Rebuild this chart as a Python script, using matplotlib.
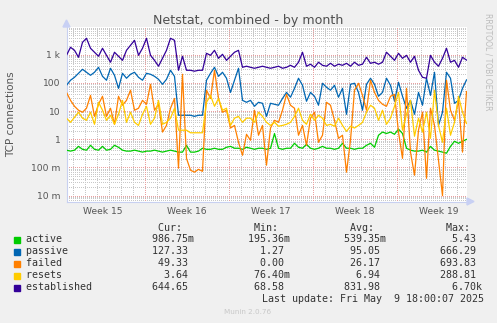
import numpy as np
import matplotlib
matplotlib.use("Agg")
import matplotlib.pyplot as plt
from matplotlib.patches import Polygon, Rectangle
from matplotlib.ticker import FixedLocator, FixedFormatter, NullLocator

# netstat counters, one sample every 8 hours across the month window
active = [
    0.41, 0.38, 0.41, 0.56, 0.44, 0.41, 0.61, 0.44, 0.41, 0.56,
    0.41, 0.44, 0.61, 0.52, 0.41, 0.38, 0.38, 0.41, 0.38, 0.35,
    0.38, 0.38, 0.41, 0.38, 0.35, 0.38, 0.41, 0.38, 0.35, 0.35,
    0.61, 0.35, 0.35, 0.38, 0.48, 0.44, 0.44, 0.48, 0.44, 0.44,
    0.52, 0.56, 0.48, 0.48, 0.44, 0.52, 0.48, 0.44, 0.48, 0.48,
    0.44, 0.48, 1.6, 0.48, 0.44, 0.48, 0.48, 0.72, 0.52, 0.48,
    0.66, 0.48, 0.44, 0.48, 0.56, 0.48, 0.48, 0.44, 0.48, 0.72,
    0.48, 0.48, 0.44, 0.48, 0.48, 0.61, 0.72, 0.52, 1.39, 1.8,
    1.6, 1.8, 1.5, 2.3, 1.6, 0.48, 0.41, 0.38, 0.38, 0.41,
    0.35, 0.56, 0.41, 0.38, 0.35, 0.32, 0.56, 0.85, 0.72, 0.85,
    0.98675,
]
passive = [
    82, 124, 158, 219, 303, 238, 186, 238, 357, 171,
    124, 330, 186, 64, 219, 146, 202, 238, 158, 124,
    219, 202, 171, 134, 89, 134, 280, 171, 7.1, 7.1,
    7.1, 7.1, 6.5, 7.1, 7.1, 124, 219, 357, 171, 238,
    146, 46, 124, 330, 24, 20.5, 24, 14.8, 20.5, 18.9,
    6.5, 18.9, 17.4, 16.1, 28, 46, 31, 64, 146, 82,
    22.3, 46, 33.5, 16.1, 97, 70, 55, 82, 31, 64,
    7.7, 89, 97, 46, 10.7, 89, 146, 89, 33.5, 46,
    146, 82, 22.3, 105, 33.5, 12.6, 24, 7.7, 46, 16.1,
    146, 36, 238, 3.1, 9.1, 238, 146, 18.9, 24, 64,
    127.33,
]
failed = [
    46, 24, 14.8, 10.7, 9.1, 12.6, 36, 6.5, 17.4, 33.5,
    6.5, 12.6, 3.4, 33.5, 16.1, 24, 55, 10.7, 12.6, 24,
    17.4, 89, 10.7, 17.4, 1.8, 3.1, 12.6, 28, 0.094, 202,
    0.21, 0.080, 0.068, 0.086, 0.073, 55, 28, 280, 28, 9.1,
    10.7, 2.5, 3.1, 0.78, 0.27, 1.5, 0.92, 10.7, 1.39, 3.1,
    0.12, 2.5, 4.7, 4.0, 10.7, 39, 16.1, 12.6, 1.39, 3.1,
    0.61, 5.6, 9.1, 0.78, 1.39, 20.5, 16.1, 4.7, 1.08, 1.39,
    0.068, 0.92, 55, 97, 36, 10.7, 124, 46, 24, 17.4,
    14.8, 33.5, 39, 1.8, 0.21, 64, 0.35, 0.053, 2.1, 9.1,
    0.041, 12.6, 3.1, 0.18, 0.010, 124, 10.7, 4.7, 24, 0.35,
    49.33,
]
resets = [
    5.6, 4.0, 6.0, 9.1, 5.6, 4.7, 9.1, 3.4, 20.5, 10.7,
    4.7, 7.1, 3.4, 7.7, 24, 4.0, 9.1, 4.0, 3.1, 7.7,
    14.8, 3.4, 5.6, 24, 3.4, 4.0, 5.6, 12.6, 2.1, 2.1,
    2.1, 1.7, 1.7, 1.7, 1.7, 20.5, 36, 14.8, 28, 10.7,
    12.6, 3.1, 5.6, 6.5, 4.0, 5.6, 5.6, 4.0, 9.1, 6.5,
    4.0, 3.1, 4.0, 2.9, 3.1, 3.4, 4.0, 6.5, 12.6, 4.7,
    3.4, 7.7, 4.7, 7.1, 5.6, 3.1, 3.4, 2.9, 5.6, 3.1,
    1.9, 2.9, 2.5, 3.1, 4.0, 9.1, 16.1, 12.6, 4.7, 10.7,
    3.4, 5.6, 14.8, 46, 2.1, 7.7, 24, 1.28, 5.6, 1.8,
    9.1, 1.08, 55, 3.1, 0.78, 12.6, 1.39, 4.0, 33.5, 9.1,
    3.64,
]
established = [
    950, 1830, 1430, 810, 2750, 3820, 1690, 1220, 880, 1690,
    950, 540, 1220, 880, 630, 1430, 2150, 3240, 950, 1690,
    3820, 950, 630, 390, 745, 1430, 3820, 3240, 280, 880,
    280, 280, 260, 280, 280, 1120, 950, 1430, 745, 1030,
    630, 880, 1220, 1430, 357, 390, 357, 330, 357, 390,
    357, 330, 357, 390, 330, 357, 420, 357, 540, 1220,
    390, 460, 357, 540, 420, 390, 495, 390, 460, 420,
    495, 390, 540, 420, 460, 810, 495, 540, 460, 540,
    1220, 880, 630, 1120, 745, 950, 540, 880, 280, 158,
    146, 950, 540, 390, 745, 1690, 540, 630, 357, 810,
    644.65,
]

names = ["active", "passive", "failed", "resets", "established"]
colours = ["#00cc00", "#0066b3", "#ff8000", "#ffcc00", "#330099"]
cur_txt = ["986.75m", "127.33 ", "49.33 ", "3.64 ", "644.65 "]
min_txt = ["195.36m", "1.27 ", "0.00 ", "76.40m", "68.58 "]
avg_txt = ["539.35m", "95.05 ", "26.17 ", "6.94 ", "831.98 "]
max_txt = ["5.43 ", "666.29 ", "693.83 ", "288.81 ", "6.70k"]

y_ticks = [1e-2, 1e-1, 1, 10, 100, 1000]
y_tick_labels = ["10 m", "100 m", "1", "10", "100", "1 k"]
week_labels = ["Week 15", "Week 16", "Week 17", "Week 18", "Week 19"]
last_update = "Last update: Fri May  9 18:00:07 2025"

series = [active, passive, failed, resets, established]
days = np.arange(len(active)) / 3.0

W, H = 497, 323


def fx(x):
    return x / W


def fy(y):
    return 1 - y / H


fig = plt.figure(figsize=(W / 100, H / 100), dpi=100, facecolor="#f0f0f0")
ax = fig.add_axes([fx(66.5), fy(201.5), (466.5 - 66.5) / W, (201.5 - 27) / H])
ax.set_facecolor("white")
ax.set_yscale("log")
ax.set_ylim(6.2e-3, 9.6e3)
ax.set_xlim(0, 400 / 12)

# grid: grey dotted minor lines, red dotted at decades and week starts
minor_c = "#c8c8c8"
major_c = "#eaa0a0"
dots = (0, (0.72, 1.44))
minor_y = [m * 10.0 ** dec for dec in range(-3, 4) for m in range(2, 10)]
week_starts = np.arange(-0.5, 34, 7)
day_lines = [d for d in np.arange(0.5, 34, 1) if d not in week_starts]
for v in minor_y:
    ax.axhline(v, color=minor_c, lw=1.0, ls=dots, antialiased=False, zorder=1)
for d in day_lines:
    ax.axvline(d, color=minor_c, lw=1.0, ls=dots, antialiased=False, zorder=1)
for v in y_ticks:
    ax.axhline(v, color=major_c, lw=1.0, ls=dots, antialiased=False, zorder=2)
for d in week_starts:
    ax.axvline(d, color=major_c, lw=1.0, ls=dots, antialiased=False, zorder=2)

for i, vals in enumerate(series):
    ax.plot(days, vals, color=colours[i], lw=0.9, zorder=3 + i)

ax.yaxis.set_major_locator(FixedLocator(y_ticks))
ax.yaxis.set_major_formatter(FixedFormatter(y_tick_labels))
ax.yaxis.set_minor_locator(NullLocator())
ax.xaxis.set_major_locator(FixedLocator(week_starts[:len(week_labels)] + 3.5))
ax.xaxis.set_major_formatter(FixedFormatter(week_labels))
ax.tick_params(axis="both", length=0, labelsize=6.6, labelcolor="#555555")
ax.tick_params(axis="y", pad=4.5)
ax.tick_params(axis="x", pad=4.0)

for s in ["top", "right"]:
    ax.spines[s].set_visible(False)
for s in ["left", "bottom"]:
    ax.spines[s].set_color("#c8d0f0")
    ax.spines[s].set_linewidth(0.8)

# axis arrows
fig.add_artist(Polygon([(fx(63), fy(27)), (fx(70), fy(27)), (fx(66.5), fy(20))],
                       closed=True, color="#c8d0f4", transform=fig.transFigure))
fig.add_artist(Polygon([(fx(467), fy(198)), (fx(467), fy(205)), (fx(474), fy(201.5))],
                       closed=True, color="#c8d0f4", transform=fig.transFigure))

fig.text(fx(248.5), fy(24), "Netstat, combined - by month", ha="center",
         va="baseline", fontsize=9.1, color="#505050")
fig.text(fx(11), fy(114), "TCP connections", rotation=90, ha="center",
         va="center", fontsize=7.5, color="#555555")
fig.text(fx(488), fy(13), "RRDTOOL / TOBI OETIKER", rotation=270, ha="center",
         va="top", fontsize=5.5, color="#bcbcbc")

# legend block in monospace, rrdtool style
mono = "DejaVu Sans Mono"
header = " " * 22 + "Cur:" + " " * 12 + "Min:" + " " * 12 + "Avg:" + " " * 12 + "Max:"
fig.text(fx(26), fy(228), header, ha="left", va="center", family=mono,
         fontsize=7.2, color="#333333")
for i, name in enumerate(names):
    row_y = 239.5 + 12 * i
    fig.add_artist(Rectangle((fx(14), fy(row_y + 3)), 6 / W, 6 / H,
                             color=colours[i], transform=fig.transFigure))
    line = f"{name:<14}{cur_txt[i]:>14}{min_txt[i]:>16}{avg_txt[i]:>16}{max_txt[i]:>16}"
    fig.text(fx(26), fy(row_y), line, ha="left", va="center", family=mono,
             fontsize=7.2, color="#333333")
fig.text(fx(483.5), fy(299.5), last_update, ha="right", va="center",
         family=mono, fontsize=7.2, color="#333333")
fig.text(fx(248), fy(311.5), "Munin 2.0.76", ha="center", va="center",
         fontsize=5.2, color="#c8c8c8")

fig.savefig("out.png", dpi=100, facecolor=fig.get_facecolor())
